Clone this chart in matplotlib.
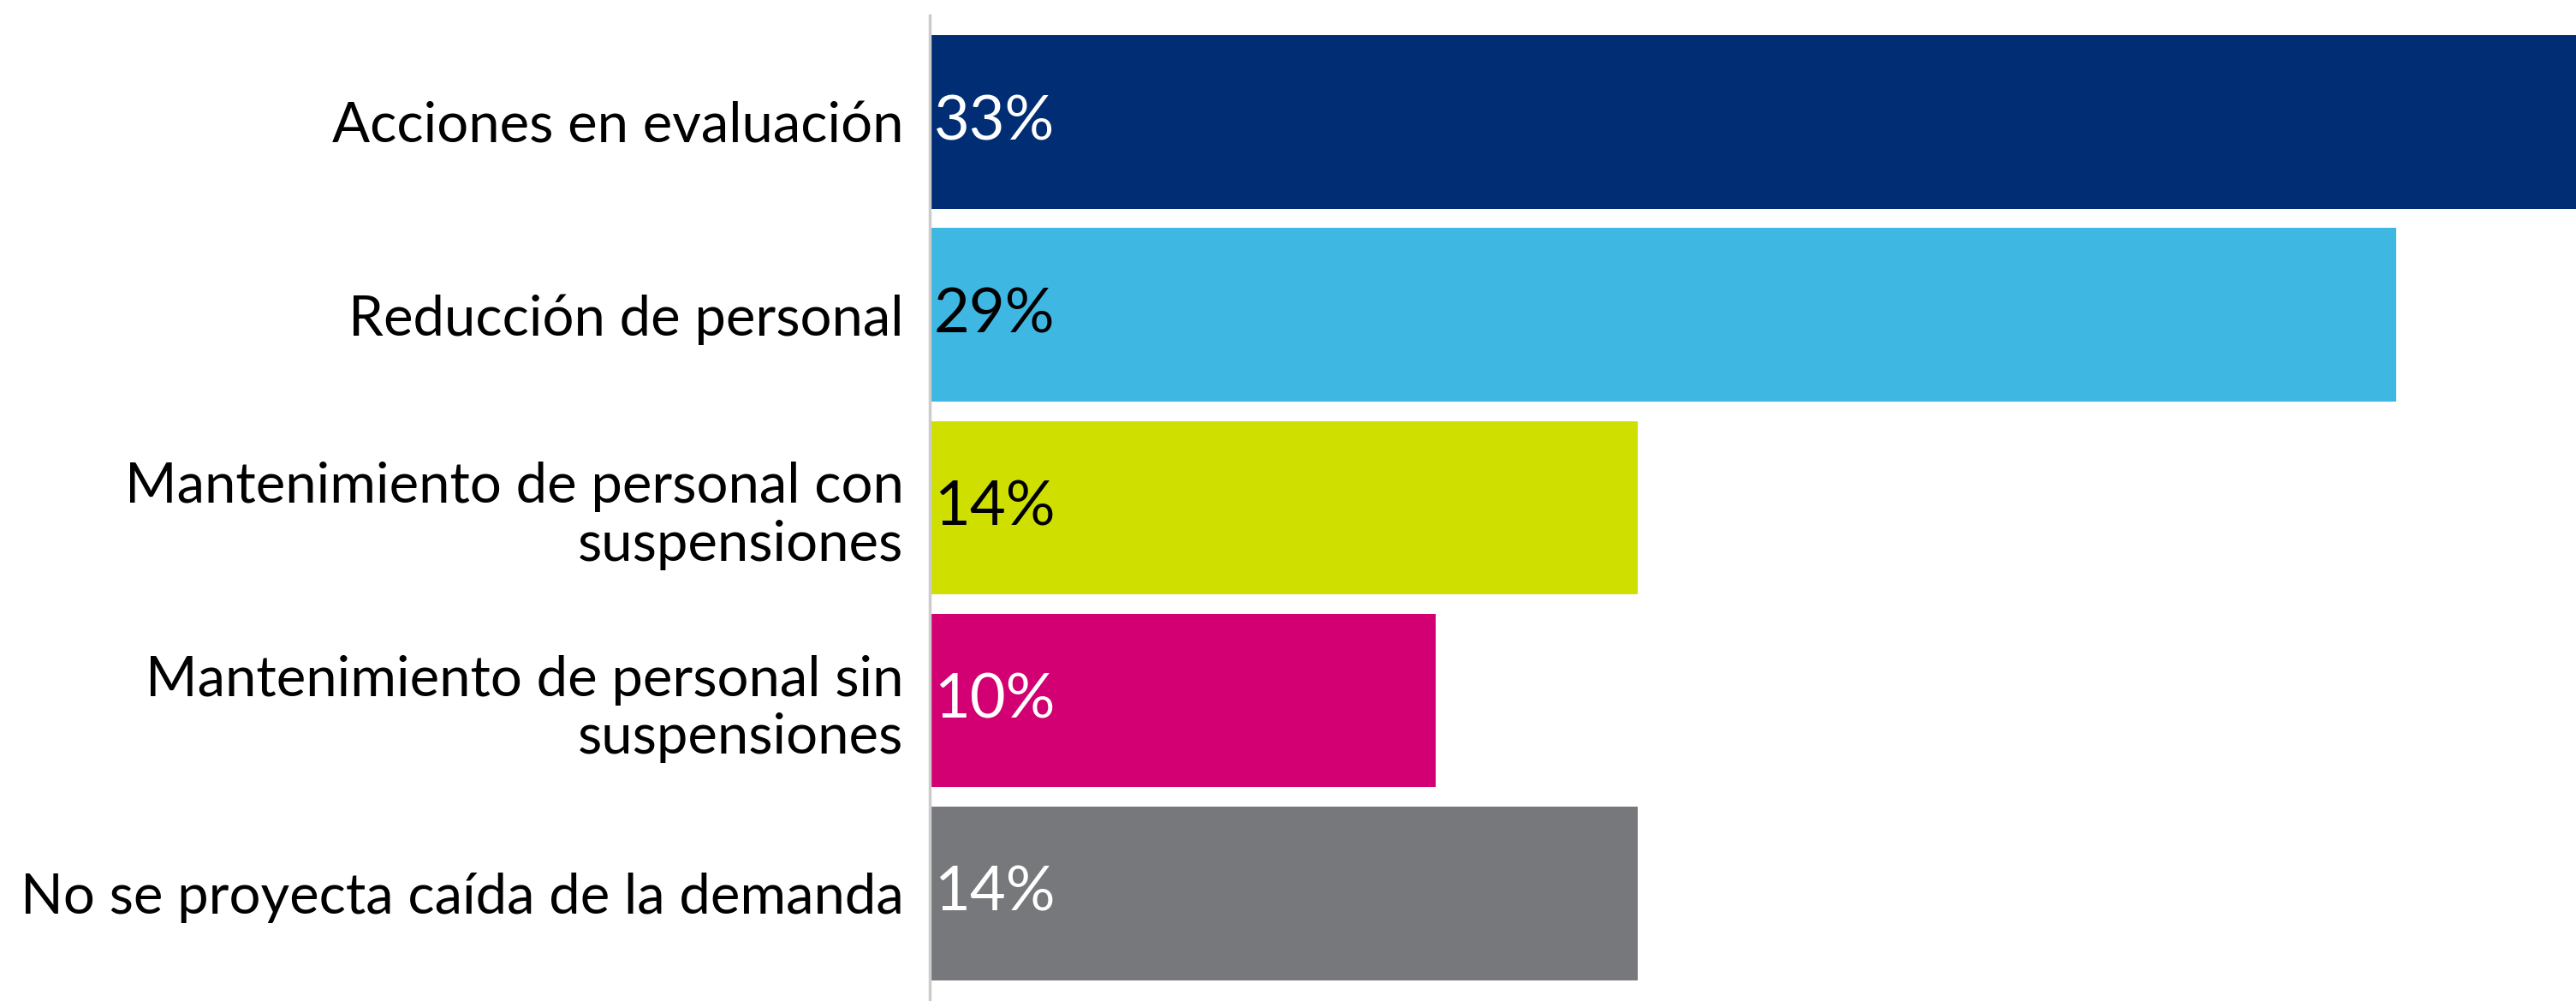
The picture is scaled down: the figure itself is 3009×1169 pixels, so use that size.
import matplotlib
matplotlib.use("Agg")
import matplotlib.pyplot as plt

categories = [
    "Acciones en evaluación",
    "Reducción de personal",
    "Mantenimiento de personal con\nsuspensiones",
    "Mantenimiento de personal sin\nsuspensiones",
    "No se proyecta caída de la demanda",
]
values = [33, 29, 14, 10, 14]
value_labels = ["33%", "29%", "14%", "10%", "14%"]
bar_colors = ["#002D74", "#3EB8E3", "#CFDF00", "#D20073", "#77787B"]
text_colors = ["white", "black", "black", "white", "white"]

plt.rcParams['font.family'] = ['Lato', 'DejaVu Sans']

W, H = 3009, 1169
dpi = 100
fig = plt.figure(figsize=(W / dpi, H / dpi), dpi=dpi)
ax = fig.add_axes([1086 / W, 0, 1 - 1086 / W, 1 - 18 / H])

y = list(range(len(categories)))
ax.barh(y, values, height=0.9, color=bar_colors)
ax.set_xlim(0, 1923 / 59.08)
ax.set_ylim(4.558, -0.553)

for yi, lab, tc in zip(y, value_labels, text_colors):
    ax.annotate(lab, xy=(0, yi), xytext=(5, 0), textcoords="offset pixels",
                ha="left", va="center", color=tc, fontsize=52)

ax.set_yticks(y)
ax.set_yticklabels(categories, fontsize=47, linespacing=1.18)
ax.tick_params(axis="y", length=0, pad=22)
ax.set_xticks([])
for s in ["top", "right", "bottom"]:
    ax.spines[s].set_visible(False)
ax.spines["left"].set_color("#CCCCCC")
ax.spines["left"].set_linewidth(2.5)

fig.savefig("out.png", dpi=dpi)
